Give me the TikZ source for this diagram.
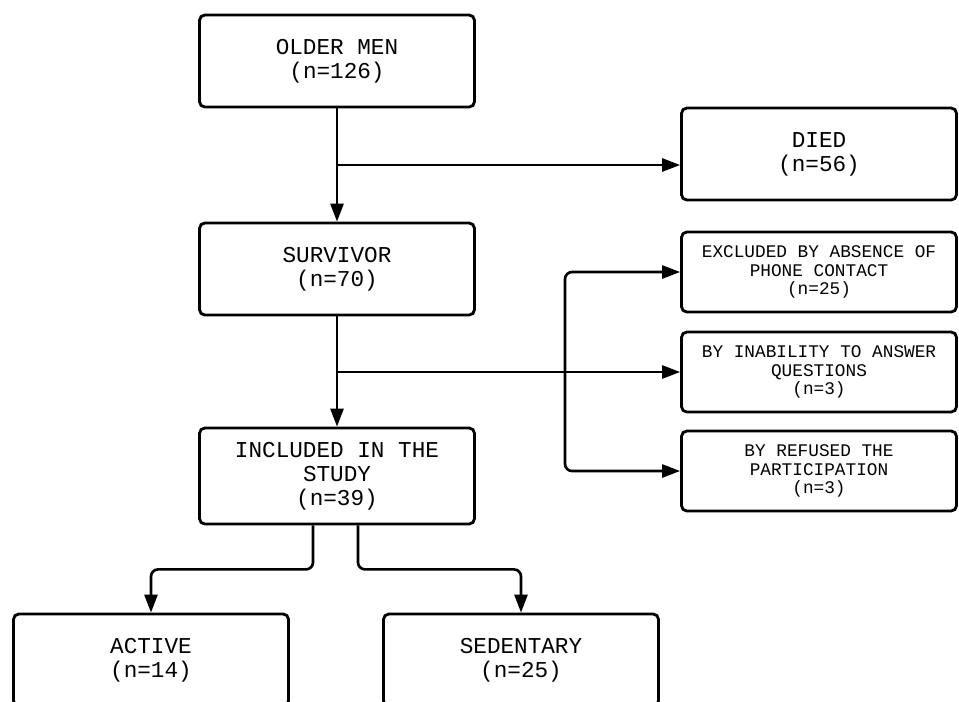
\documentclass[tikz,border=0pt]{standalone}
\usepackage{fontspec}
\setmonofont{Liberation Mono}
\usetikzlibrary{positioning,arrows.meta}

\begin{document}
\begin{tikzpicture}[x=0.02cm,y=-0.02cm,
    box/.style={draw,line width=1.6pt,rounded corners=3pt,align=center,
      minimum width=5.5cm,minimum height=1.84cm,inner sep=0pt,
      font=\ttfamily\fontsize{12.9}{13.7}\selectfont},
    smallbox/.style={box,minimum height=1.6cm,
      font=\ttfamily\fontsize{10.1}{10.4}\selectfont},
    link/.style={line width=1.5pt,rounded corners=4pt},
    arr/.style={link,-{Triangle[length=0.36cm,width=0.26cm]}}]
    \useasboundingbox (0,0) rectangle (959,701);

    \node[box]      (older)  at (337,61)  {OLDER MEN\\(n=126)};
    \node[box]      (died)   at (819,154) {DIED\\(n=56)};
    \node[box]      (surv)   at (337,269) {SURVIVOR\\(n=70)};
    \node[smallbox] (phone)  at (819,272) {EXCLUDED BY ABSENCE OF\\PHONE CONTACT\\(n=25)};
    \node[smallbox] (inab)   at (819,372) {BY INABILITY TO ANSWER\\QUESTIONS\\(n=3)};
    \node[smallbox] (refuse) at (819,471) {BY REFUSED THE\\PARTICIPATION\\(n=3)};
    \node[box,minimum height=1.92cm] (incl) at (337,476) {INCLUDED IN THE\\STUDY\\(n=39)};
    \node[box]      (active) at (151,660) {ACTIVE\\(n=14)};
    \node[box]      (sed)    at (521,660) {SEDENTARY\\(n=25)};

    \coordinate (j1)  at (337,165); % to died
    \coordinate (j2)  at (337,372); % to excluded
    \coordinate (brk) at (565,372);

    \draw[arr] (older) -- (surv);
    \draw[arr] (j1) -- (j1 -| died.west);
    \draw[arr] (surv) -- (incl);
    \draw[arr] (j2) -- (inab.west);
    \draw[arr] (brk) |- (phone.west);
    \draw[arr] (brk) |- (refuse.west);

    \draw[arr] ([xshift=-0.48cm]incl.south) -- ++(0,44) -| (active);
    \draw[arr] ([xshift=0.42cm]incl.south)  -- ++(0,44) -| (sed);
  \end{tikzpicture}
\end{document}
